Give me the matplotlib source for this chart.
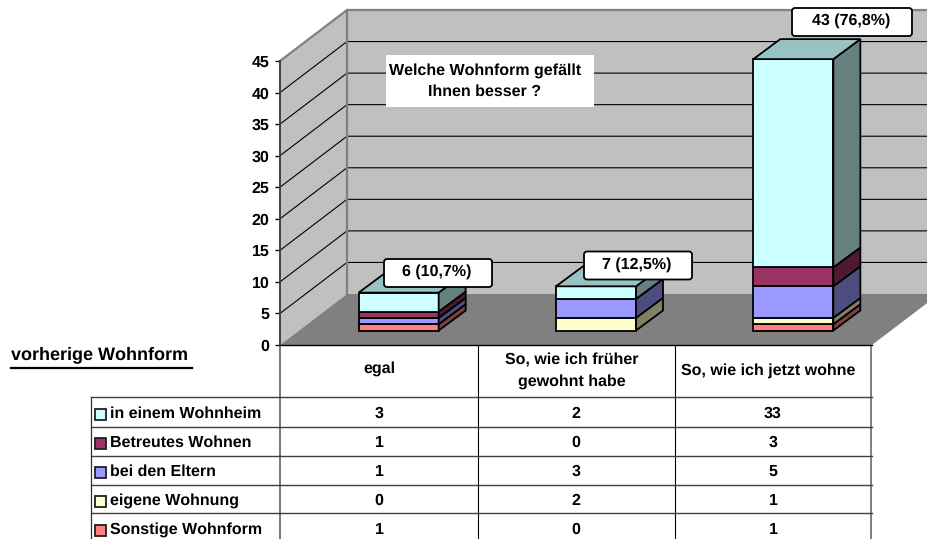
import matplotlib
matplotlib.use("Agg")
import matplotlib.pyplot as plt
from matplotlib.patches import Polygon, Rectangle, FancyBboxPatch

plt.rcParams['font.family'] = ['Liberation Sans', 'DejaVu Sans']
plt.rcParams['font.weight'] = 'bold'
plt.rcParams['text.hinting'] = 'no_hinting'
plt.rcParams['text.hinting_factor'] = 1

categories = ["egal", "So, wie ich früher\ngewohnt habe", "So, wie ich jetzt wohne"]
series_names = ["in einem Wohnheim", "Betreutes Wohnen", "bei den Eltern", "eigene Wohnung", "Sonstige Wohnform"]
wohnheim = [3, 2, 33]
betreut = [1, 0, 3]
eltern = [1, 3, 5]
eigene = [0, 2, 1]
sonstige = [1, 0, 1]
totals_text = ["6 (10,7%)", "7 (12,5%)", "43 (76,8%)"]
yticks = list(range(0, 50, 5))

series = [wohnheim, betreut, eltern, eigene, sonstige]
front = ["#CCFFFF", "#993366", "#9999FF", "#FFFFCC", "#FF8080"]
top = ["#99C2C2", "#732650", "#7373BF", "#BFBF99", "#BF6060"]
side = ["#668080", "#4D1933", "#4D4D80", "#808066", "#804040"]

W, H = 928, 539
fig = plt.figure(figsize=(W / 100, H / 100), dpi=100)

# overlay in pixel coordinates for table and other furniture
back = fig.add_axes([0, 0, 1, 1], zorder=0)
back.set_xlim(0, W)
back.set_ylim(H, 0)
back.axis('off')

# main axes: x in categories, y in values, 280..872 / 345..61 px
ax = fig.add_axes([280 / W, 1 - 345 / H, 592 / W, 284 / H], zorder=1)
ax.patch.set_visible(False)
ax.set_xlim(0, 3)
ax.set_ylim(0, 45)
ax.set_xticks([])
ax.set_yticks(yticks)
ax.tick_params(axis='y', length=3.6, width=1, pad=4, labelsize=11.3)
for s in ['top', 'right', 'bottom']:
    ax.spines[s].set_visible(False)
ax.spines['left'].set_color('#404040')
ax.spines['left'].set_linewidth(1.4)

px_x = 3 / 592.0
px_y = 45 / 284.0
wall_dx, wall_dy = 67 * px_x, 51 * px_y
bar_dx, bar_dy = 27 * px_x, 20 * px_y
off_x, off_y = 20 * px_x, 14.5 * px_y
bar_w = 80 * px_x
grey = '#808080'
edge = 1.3

# walls and floor
ax.add_patch(Polygon([(wall_dx, wall_dy), (3 + wall_dx, wall_dy), (3 + wall_dx, 45 + wall_dy), (wall_dx, 45 + wall_dy)],
                     fc='#C0C0C0', ec='none', clip_on=False, zorder=1))
ax.add_patch(Polygon([(0, 0), (wall_dx, wall_dy), (wall_dx, 45 + wall_dy), (0, 45)],
                     fc='#C0C0C0', ec='none', clip_on=False, zorder=1))
ax.add_patch(Polygon([(0, 0), (3, 0), (3 + wall_dx, wall_dy), (wall_dx, wall_dy)],
                     fc=grey, ec='none', clip_on=False, zorder=1.5))
for v in yticks[1:-1]:
    ax.plot([0, wall_dx, 3 + wall_dx], [v, v + wall_dy, v + wall_dy], color='black', lw=0.8, clip_on=False, zorder=1.2)
ax.plot([0, wall_dx, 3 + wall_dx], [45, 45 + wall_dy, 45 + wall_dy], color=grey, lw=1.6, clip_on=False, zorder=1.3)
ax.plot([wall_dx, wall_dx], [wall_dy, 45 + wall_dy], color=grey, lw=1.6, clip_on=False, zorder=1.3)
ax.plot([0, 3], [0, 0], color='black', lw=1, clip_on=False, zorder=1.6)

# stacked 3d bars, bottom series first
for i in range(3):
    x0 = i + 0.5 - bar_w / 2 + off_x
    x1 = x0 + bar_w
    bottom = off_y
    for k in range(len(series) - 1, -1, -1):
        h = series[k][i]
        if h == 0:
            continue
        t = bottom + h
        ax.bar(x0, h, bar_w, bottom=bottom, align='edge', color=front[k], edgecolor='black', linewidth=edge,
               clip_on=False, zorder=3)
        ax.add_patch(Polygon([(x1, bottom), (x1 + bar_dx, bottom + bar_dy), (x1 + bar_dx, t + bar_dy), (x1, t)],
                             fc=side[k], ec='black', lw=edge, clip_on=False, zorder=3))
        if k == 0:
            ax.add_patch(Polygon([(x0, t), (x1, t), (x1 + bar_dx, t + bar_dy), (x0 + bar_dx, t + bar_dy)],
                                 fc=top[k], ec='black', lw=edge, clip_on=False, zorder=3))
        bottom = t

# table
row_ys = [397, 427, 456, 485, 513]
back.plot([280, 280], [345, 539], color='#606060', lw=1.2)
back.plot([871.5, 871.5], [345, 539], color=grey, lw=1.4)
for xv in [478, 675]:
    back.plot([xv, xv], [345, 539], color='black', lw=0.8)
back.plot([91, 91], [397, 539], color='#303030', lw=0.9)
for yv in row_ys:
    back.plot([91, 872], [yv, yv], color='#404040', lw=1.0)

head_x = [379, 572, 768.5]
col_x = [379, 576, 773]
for xv, name, yv in zip(head_x, categories, [369, 371, 371]):
    back.text(xv, yv, name, ha='center', va='center', fontsize=11.3, linespacing=1.6)
for k, name in enumerate(series_names):
    yv = 414 + 29 * k
    back.add_patch(Rectangle((95.5, yv - 5), 11, 11, fc=front[k], ec='#202020', lw=1.3))
    back.text(110, yv, name, ha='left', va='center', fontsize=11.4)
    for xv, val in zip(col_x, series[k]):
        back.text(xv, yv, str(val), ha='center', va='center', fontsize=11.3)

back.text(11, 355, "vorherige Wohnform", ha='left', va='center', fontsize=13.3)
back.plot([11, 192], [367.5, 367.5], color='black', lw=1.6)

# foreground: title box and value callouts
fore = fig.add_axes([0, 0, 1, 1], zorder=2)
fore.patch.set_visible(False)
fore.set_xlim(0, W)
fore.set_ylim(H, 0)
fore.axis('off')
fore.add_patch(Rectangle((386, 55), 208, 52, fc='white', ec='none'))
fore.text(485, 81, "Welche Wohnform gefällt\nIhnen besser ?", ha='center', va='center', fontsize=11.3, linespacing=1.6)

boxes = [(384, 259, 108), (584, 251.5, 108), (792, 8, 120)]
for (bx, by, bw), label in zip(boxes, totals_text):
    fore.add_patch(FancyBboxPatch((bx + 3, by + 3), bw - 6, 22, boxstyle='round,pad=3', fc='white', ec='black', lw=1.3))
    fore.text(bx + bw / 2 - 1, by + 13, label, ha='center', va='center', fontsize=11.3)

fig.savefig('out.png', dpi=100)
